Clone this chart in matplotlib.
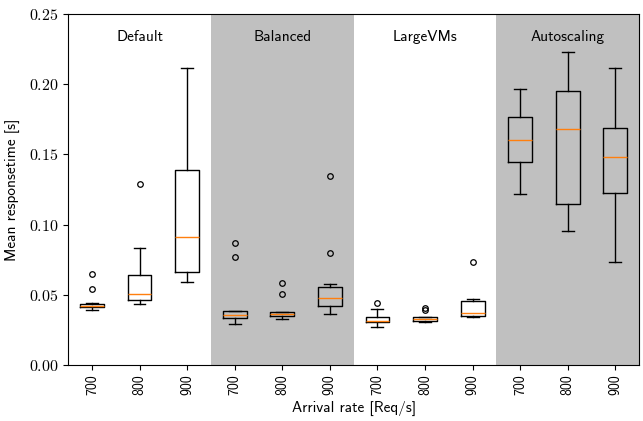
import matplotlib
matplotlib.use("Agg")
import matplotlib.pyplot as plt
from matplotlib.ticker import FuncFormatter

plt.rcParams["font.family"] = "cmss10"
plt.rcParams["mathtext.fontset"] = "cm"
plt.rcParams["axes.unicode_minus"] = False

# ── Data ──────────────────────────────────────────────────────────────────────
groups = ["Default", "Balanced", "LargeVMs", "Autoscaling"]
rates = ["700", "800", "900"]

whislo = [0.0392, 0.0434, 0.0593, 0.0294, 0.0328, 0.0361,
          0.0271, 0.0306, 0.0344, 0.1218, 0.0957, 0.0731]
q1 = [0.0411, 0.0461, 0.0660, 0.0335, 0.0347, 0.0420,
      0.0304, 0.0311, 0.0349, 0.1444, 0.1145, 0.1225]
med = [0.0423, 0.0503, 0.0914, 0.0358, 0.0361, 0.0475,
       0.0316, 0.0325, 0.0373, 0.1603, 0.1681, 0.1481]
q3 = [0.0437, 0.0643, 0.1387, 0.0382, 0.0375, 0.0558,
      0.0344, 0.0342, 0.0453, 0.1769, 0.1952, 0.1688]
whishi = [0.0440, 0.0833, 0.2113, 0.0387, 0.0377, 0.0577,
          0.0401, 0.0344, 0.0472, 0.1966, 0.2232, 0.2118]
fliers = [[0.0541, 0.0646], [0.1287], [], [0.0769, 0.0866], [0.0503, 0.0582],
          [0.0800, 0.1346], [0.0442], [0.0394, 0.0408], [0.0736], [], [], []]

stats = []
for i in range(len(med)):
    stats.append(dict(whislo=whislo[i], q1=q1[i], med=med[i], q3=q3[i],
                      whishi=whishi[i], fliers=fliers[i]))

fig = plt.figure(figsize=(6.43, 4.21), dpi=100)
ax = fig.add_axes([0.106, 0.133, 0.888, 0.834])

# shaded backgrounds for every other group
for g in range(len(groups)):
    lo = g * 3 + 0.5
    if g % 2 == 1:
        ax.axvspan(lo, lo + 3, color="silver", zorder=0, lw=0)
    ax.text(lo + 1.5, 0.2336, groups[g], ha="center", va="center", fontsize=11)

ax.bxp(stats, positions=range(1, 13), widths=0.5,
       boxprops=dict(color="black", lw=1),
       whiskerprops=dict(color="black", lw=1),
       capprops=dict(color="black", lw=1),
       medianprops=dict(color="C1", lw=1),
       flierprops=dict(marker="o", markersize=4, markerfacecolor="none",
                       markeredgecolor="black", markeredgewidth=0.9))

ax.set_xlim(0.5, 12.5)
ax.set_ylim(0, 0.25)
ax.set_yticks([0, 0.05, 0.10, 0.15, 0.20, 0.25])
ax.yaxis.set_major_formatter(FuncFormatter(lambda v, p: f"${v:.2f}$"))
ax.set_xticks(range(1, 13))
ax.set_xticklabels(rates * 4, rotation=90)
ax.tick_params(axis="x", labelsize=10)
ax.tick_params(axis="y", labelsize=11.5)
ax.set_xlabel("Arrival rate [Req/s]", fontsize=11)
ax.set_ylabel("Mean responsetime [s]", fontsize=11, labelpad=6)

fig.savefig("out.png", dpi=100)
